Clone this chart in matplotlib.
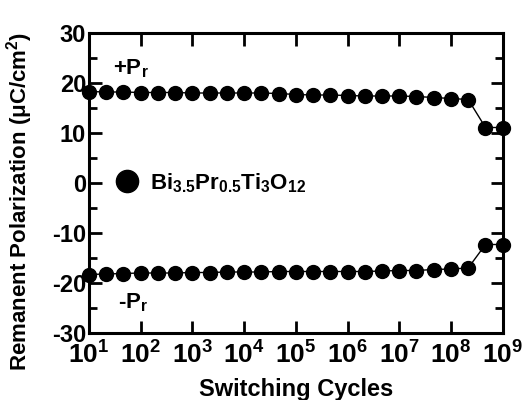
import matplotlib
matplotlib.use("Agg")
import matplotlib.pyplot as plt
from matplotlib.ticker import LogLocator, LogFormatterMathtext, MultipleLocator, NullLocator

plt.rcParams['font.family'] = ['Liberation Sans', 'DejaVu Sans']
plt.rcParams['font.weight'] = 'bold'
plt.rcParams['mathtext.fontset'] = 'custom'
plt.rcParams['mathtext.rm'] = 'Liberation Sans:bold'
plt.rcParams['mathtext.bf'] = 'Liberation Sans:bold'
plt.rcParams['mathtext.it'] = 'Liberation Sans:bold'
plt.rcParams['mathtext.default'] = 'bf'
plt.rcParams['axes.unicode_minus'] = False

# switching cycles (three points per decade)
cycles = [1.0e1, 2.15e1, 4.64e1, 1.0e2, 2.15e2, 4.64e2, 1.0e3, 2.15e3, 4.64e3,
          1.0e4, 2.15e4, 4.64e4, 1.0e5, 2.15e5, 4.64e5, 1.0e6, 2.15e6, 4.64e6,
          1.0e7, 2.15e7, 4.64e7, 1.0e8, 2.15e8, 4.64e8, 1.0e9]
pr_pos = [18.3, 18.2, 18.2, 18.1, 18.1, 18.1, 18.0, 18.0, 18.0, 18.0, 18.0,
          17.9, 17.7, 17.6, 17.6, 17.5, 17.4, 17.4, 17.4, 17.3, 17.1, 16.9,
          16.7, 11.1, 11.1]
pr_neg = [-18.3, -18.2, -18.1, -18.0, -18.0, -18.0, -17.9, -17.9, -17.8,
          -17.8, -17.8, -17.7, -17.7, -17.7, -17.7, -17.7, -17.7, -17.6,
          -17.5, -17.5, -17.3, -17.2, -17.0, -12.3, -12.3]

fig = plt.figure(figsize=(5.32, 4.0), dpi=100)
ax = fig.add_axes([0.167, 0.1675, 0.778, 0.75])

ax.plot(cycles, pr_pos, marker='o', color='black', markersize=10,
        linewidth=1.0, label=r'Bi$_{3.5}$Pr$_{0.5}$Ti$_3$O$_{12}$', clip_on=False)
ax.plot(cycles, pr_neg, marker='o', color='black', markersize=10,
        linewidth=1.0, clip_on=False)

ax.set_xscale('log')
ax.set_xlim(1e1, 1e9)
ax.set_ylim(-30, 30)
ax.xaxis.set_major_locator(LogLocator(base=10, numticks=20))
ax.xaxis.set_minor_locator(NullLocator())
ax.xaxis.set_major_formatter(LogFormatterMathtext())
ax.yaxis.set_major_locator(MultipleLocator(10))
ax.yaxis.set_minor_locator(MultipleLocator(5))

ax.tick_params(which='both', direction='in', top=True, right=True, width=2)
ax.tick_params(which='major', length=9)
ax.tick_params(which='minor', length=6)
ax.tick_params(axis='x', labelsize=19, pad=6)
ax.tick_params(axis='y', labelsize=17, pad=2)
for s in ax.spines.values():
    s.set_linewidth(2.2)
for lab in ax.get_yticklabels():
    lab.set_fontweight('bold')

ax.set_xlabel('Switching Cycles', fontsize=17, fontweight='bold')
ax.xaxis.set_label_coords(0.5, -0.15)
ax.set_ylabel(r'Remanent Polarization ($\mu$C/cm$^2$)', fontsize=16,
              fontweight='bold')
ax.yaxis.set_label_coords(-0.13, 0.44)

ax.text(2.9e1, 22.8, r'+P$_r$', fontsize=16, fontweight='bold', ha='left', va='center')
ax.text(3.6e1, -24, r'-P$_r$', fontsize=16, fontweight='bold', ha='left', va='center')

ax.legend(loc='center left', bbox_to_anchor=(0.045, 0.5), frameon=False,
          markerscale=1.6, handlelength=0, handletextpad=1.0, fontsize=16)

fig.savefig('out.png', dpi=100)
